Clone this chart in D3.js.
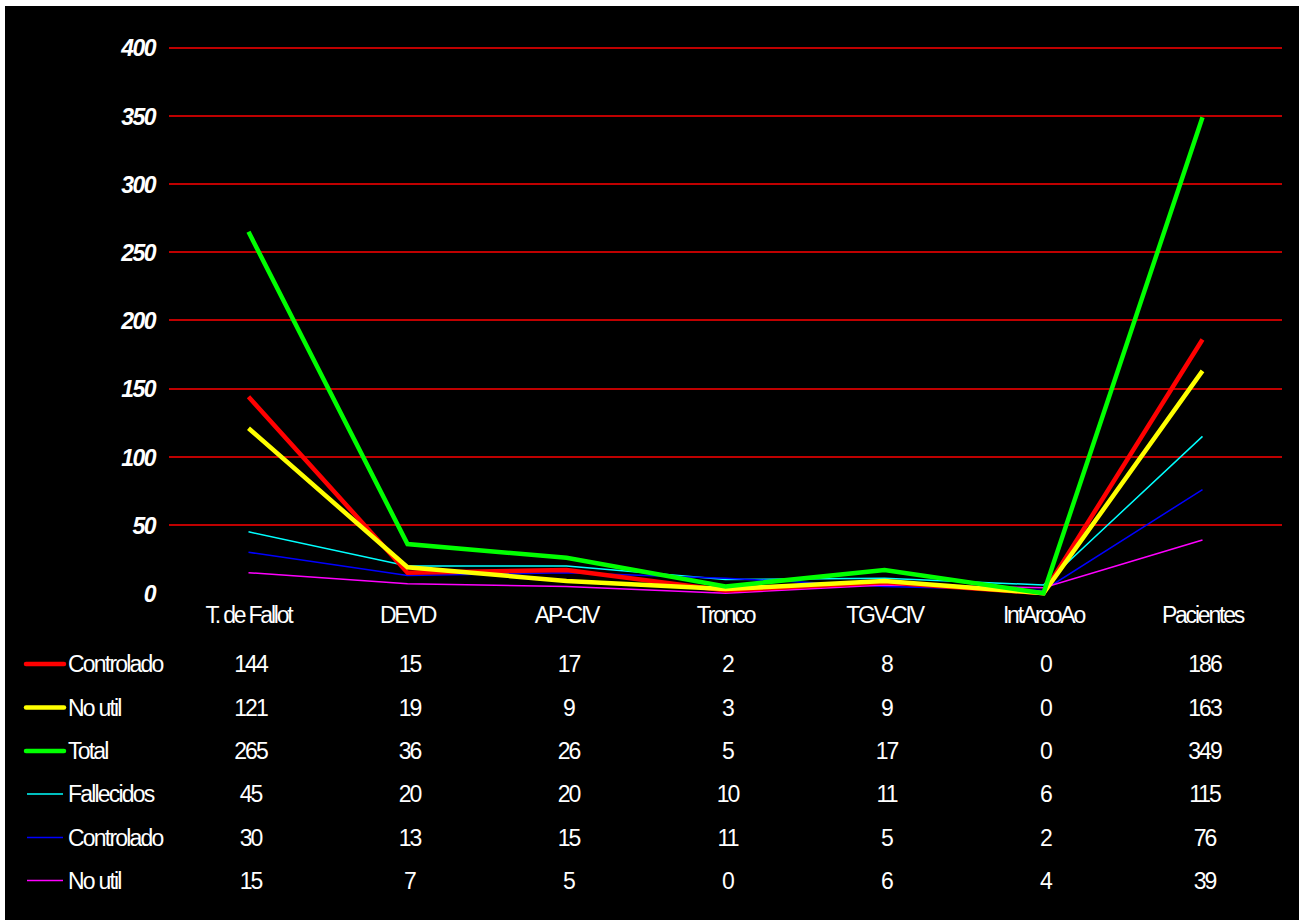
<!DOCTYPE html>
<html>
<head>
<meta charset="utf-8">
<script src="https://cdn.jsdelivr.net/npm/d3@7"></script>
<style>
  html, body { margin: 0; padding: 0; background: #ffffff; }
  svg { display: block; }
  text { font-family: "Liberation Sans", Arial, sans-serif; fill: #ffffff; }
</style>
</head>
<body>
<svg id="chart" width="1306" height="920"></svg>
<script>
const categories = ["T. de Fallot", "DEVD", "AP-CIV", "Tronco", "TGV-CIV", "IntArcoAo", "Pacientes"];
const seriesNames = ["Controlado", "No util", "Total", "Fallecidos", "Controlado", "No util"];
const controlado1 = [144, 15, 17, 2, 8, 0, 186];
const noUtil1 = [121, 19, 9, 3, 9, 0, 163];
const total = [265, 36, 26, 5, 17, 0, 349];
const fallecidos = [45, 20, 20, 10, 11, 6, 115];
const controlado2 = [30, 13, 15, 11, 5, 2, 76];
const noUtil2 = [15, 7, 5, 0, 6, 4, 39];
const yTicks = [0, 50, 100, 150, 200, 250, 300, 350, 400];

const seriesValues = [controlado1, noUtil1, total, fallecidos, controlado2, noUtil2];
const colors = ["#ff0000", "#ffff00", "#00ff00", "#00ffff", "#0000ff", "#ff00ff"];
const widths = [4.5, 4.5, 4.5, 1.5, 1.5, 1.5];

const svg = d3.select("#chart");
svg.append("rect").attr("x", 5).attr("y", 6).attr("width", 1294).attr("height", 914).attr("fill", "#000");

const plotLeft = 169, plotRight = 1282, plotTop = 47.7, plotBottom = 593.2;
const x = d3.scaleBand().domain(categories).range([plotLeft, plotRight]);
const y = d3.scaleLinear().domain([0, 400]).range([plotBottom, plotTop]);

// gridlines
svg.append("g").selectAll("line").data(yTicks.filter(t => t > 0)).join("line")
  .attr("x1", plotLeft).attr("x2", plotRight)
  .attr("y1", d => Math.round(y(d))).attr("y2", d => Math.round(y(d)))
  .attr("stroke", "#ff0000").attr("stroke-width", 1.6);

// y axis labels
const yAxis = d3.axisLeft(y).tickValues(yTicks).tickSize(0).tickPadding(0);
const ya = svg.append("g").attr("transform", `translate(155,0)`).call(yAxis);
ya.select(".domain").remove();
ya.selectAll("text")
  .attr("fill", "#fff")
  .style("font-family", '"Liberation Sans", Arial, sans-serif')
  .style("font-size", "23px").style("font-weight", "bold").style("font-style", "italic")
  .style("letter-spacing", "-1.5px")
  .attr("dy", "0.36em");

// x axis labels
const xAxis = d3.axisBottom(x).tickSize(0).tickPadding(0);
const xa = svg.append("g").attr("transform", `translate(0,${plotBottom})`).call(xAxis);
xa.select(".domain").remove();
xa.selectAll("text")
  .attr("fill", "#fff")
  .attr("y", 30).attr("dy", 0)
  .style("font-family", '"Liberation Sans", Arial, sans-serif')
  .style("font-size", "23px").style("letter-spacing", "-2.2px");

// lines
const line = d3.line().x((d, i) => x(categories[i]) + x.bandwidth() / 2).y(d => y(d));
const drawOrder = [3, 4, 5, 0, 1, 2];
drawOrder.forEach(s => {
  svg.append("path").datum(seriesValues[s])
    .attr("d", line).attr("fill", "none")
    .attr("stroke", colors[s]).attr("stroke-width", widths[s])
    .attr("stroke-linejoin", "miter");
});

// data table
const rowY = [672, 715.5, 759, 802, 845.5, 888.5];
seriesValues.forEach((vals, s) => {
  const g = svg.append("g");
  g.append("line").attr("x1", widths[s] > 2 ? 26 : 27).attr("x2", widths[s] > 2 ? 64 : 63)
    .attr("y1", rowY[s] - 8).attr("y2", rowY[s] - 8)
    .attr("stroke", colors[s]).attr("stroke-width", widths[s] > 2 ? 4.5 : 1.5)
    .attr("stroke-linecap", widths[s] > 2 ? "round" : "butt");
  g.append("text").attr("x", 68).attr("y", rowY[s])
    .style("font-size", "23px").style("letter-spacing", "-1.8px")
    .text(seriesNames[s]);
  g.selectAll("text.v").data(vals).join("text").attr("class", "v")
    .attr("x", (d, i) => x(categories[i]) + x.bandwidth() / 2 + 2)
    .attr("y", rowY[s])
    .attr("text-anchor", "middle")
    .style("font-size", "23px").style("letter-spacing", "-2px")
    .text(d => d);
});
</script>
</body>
</html>
